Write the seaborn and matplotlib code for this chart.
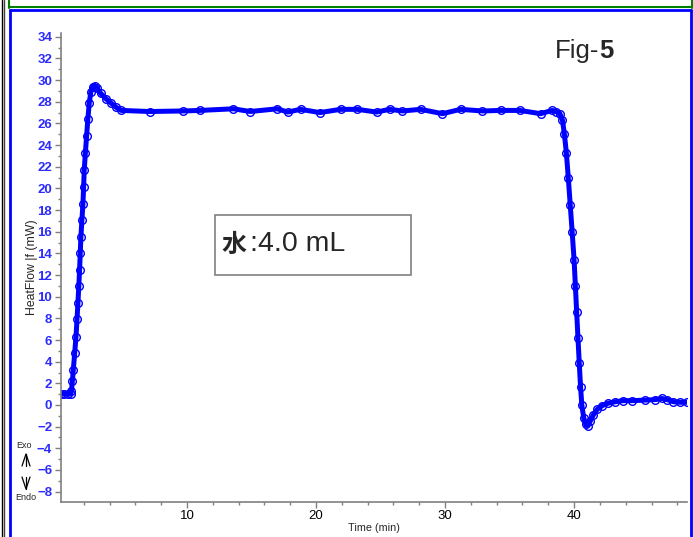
import numpy as np
import pandas as pd
import seaborn as sns
import matplotlib.pyplot as plt
from matplotlib.lines import Line2D
from matplotlib.patches import Rectangle
from matplotlib.ticker import MultipleLocator

# values (time in min, heat flow in mW)
time_min = [0.2, 0.5, 0.8, 1.0, 1.05, 1.12, 1.19, 1.3, 1.4, 1.48, 1.55, 1.62, 1.68,
            1.73, 1.78, 1.86, 1.94, 1.99, 2.04, 2.13, 2.22, 2.32, 2.43, 2.55, 2.7,
            2.85, 3.0, 3.3, 3.7, 4.1, 4.5, 4.9,
            7.1, 9.7, 11.0, 13.6, 14.9, 17.0, 17.8, 18.8, 20.3, 21.9, 23.2, 24.7,
            25.7, 26.7, 28.1, 29.8, 31.2, 32.9, 34.3, 35.8, 37.4, 38.3,
            38.6, 38.9, 39.1, 39.25, 39.4, 39.55, 39.7, 39.85, 40.0, 40.1, 40.2,
            40.3, 40.4, 40.5, 40.6, 40.75, 40.9, 41.05, 41.25, 41.5, 41.8, 42.2,
            42.6, 43.2, 43.8, 44.5, 45.5, 46.3, 46.8, 47.2, 47.7, 48.2, 48.75]
heat_flow = [1.0, 1.0, 1.0, 1.0, 1.3, 2.2, 3.2, 4.8, 6.3, 7.9, 9.4, 11.0, 12.5,
             14.0, 15.5, 17.1, 18.6, 20.1, 21.7, 23.3, 24.8, 26.4, 27.9, 28.9, 29.4,
             29.5, 29.3, 28.8, 28.3, 27.9, 27.5, 27.2,
             27.1, 27.15, 27.2, 27.35, 27.1, 27.35, 27.05, 27.3, 27.0, 27.3, 27.3, 27.05,
             27.3, 27.15, 27.3, 26.9, 27.3, 27.15, 27.2, 27.2, 26.9, 27.2,
             27.1, 26.9, 26.3, 25.0, 23.3, 21.0, 18.5, 16.0, 13.4, 11.0, 8.6,
             6.2, 3.9, 1.7, 0.0, -1.2, -1.8, -1.9, -1.5, -0.9, -0.4, -0.05,
             0.15, 0.3, 0.4, 0.4, 0.45, 0.5, 0.6, 0.5, 0.3, 0.25, 0.25]

df = pd.DataFrame({"Time (min)": time_min, "HeatFlow": heat_flow})

sns.set_style("white")
plt.rcParams['font.family'] = ['Liberation Sans', 'Noto Sans CJK JP', 'DejaVu Sans']

W, H = 693, 537
fig = plt.figure(figsize=(W / 100, H / 100), dpi=100)
ax = fig.add_axes([60.5 / W, 1 - 501.7 / H, (687 - 60.5) / W, (501.7 - 33) / H])

blue = "#0000ff"
sns.lineplot(data=df, x="Time (min)", y="HeatFlow", ax=ax, color=blue, lw=3.6,
             marker="o", ms=5.5, mfc="none", mec=blue, mew=1.0, sort=False)

ax.set_xlim(0.2, 48.75)
ax.set_ylim(-8.93, 34.35)
ax.xaxis.set_major_locator(MultipleLocator(10))
ax.xaxis.set_minor_locator(MultipleLocator(2))
ax.yaxis.set_major_locator(MultipleLocator(2))
ax.yaxis.set_minor_locator(MultipleLocator(1))

for s in ["top", "right"]:
    ax.spines[s].set_visible(False)
for s in ["left", "bottom"]:
    ax.spines[s].set_color("#808080")
    ax.spines[s].set_linewidth(1.2)

ax.tick_params(axis="both", which="both", direction="out", color="#808080", width=1,
               bottom=True, left=True)
ax.tick_params(axis="both", which="major", length=4, pad=2)
ax.tick_params(axis="both", which="minor", length=2.5)
ax.tick_params(axis="y", labelsize=9.5, labelcolor="#2b2bff")
ax.tick_params(axis="x", labelsize=9.5, labelcolor="black")
for lab in ax.get_yticklabels():
    lab.set_fontweight("bold")

ax.set_xlabel("Time (min)", fontsize=7.8, labelpad=1)
ax.set_ylabel("HeatFlow |f (mW)", fontsize=8.8, labelpad=-1)

# Fig-5 label
t1 = fig.text(555 / W, 1 - 58 / H, "Fig-", fontsize=18.5, va="baseline")
ax.annotate("5", xy=(1, 0), xycoords=t1, va="bottom", fontsize=18.5, fontweight="bold")

# sample box
fig.add_artist(Rectangle((215 / W, 1 - 275 / H), (411 - 215) / W, (275 - 215) / H,
                         transform=fig.transFigure, fill=False, ec="#808080", lw=1.2))
t2 = fig.text(222 / W, 1 - 252 / H, "水", fontsize=18, fontweight="bold",
              family=["Noto Sans CJK JP"], va="baseline")
ax.annotate(":4.0 mL", xy=(1, 0), xycoords=t2, va="bottom", fontsize=20.5,
            xytext=(2, 0), textcoords="offset points")

# window frame lines and Exo / Endo arrows, in pixel positions
def px_line(xs, ys, c, lw):
    fig.add_artist(Line2D([x / W for x in xs], [1 - y / H for y in ys],
                          transform=fig.transFigure, color=c, lw=lw))

fig.text(24 / W, 1 - 445 / H, "Exo", fontsize=6.5, ha="center", va="center")
fig.text(26 / W, 1 - 498 / H, "Endo", fontsize=6.5, ha="center", va="center")
px_line([22, 26, 30], [466, 454, 466], "black", 0.9)
px_line([26, 26], [454, 466], "black", 0.9)
px_line([22, 26, 30], [477, 489, 477], "black", 0.9)
px_line([26, 26], [477, 489], "black", 0.9)

px_line([1.7, 1.7], [0, H], "black", 1)
px_line([3.5, 3.5], [0, H], "#404040", 1)
px_line([8.5, 8.5], [0, 8], "#008000", 1.5)
px_line([8.5, W], [7, 7], "#008000", 1.5)
px_line([691.5, 691.5], [0, 8], "#008000", 1.5)
px_line([10, 690.5], [9.5, 9.5], blue, 2)
px_line([10, 10], [9.5, H], blue, 2)
px_line([690.5, 690.5], [9.5, H], blue, 2)

fig.savefig("out.png", dpi=100)
